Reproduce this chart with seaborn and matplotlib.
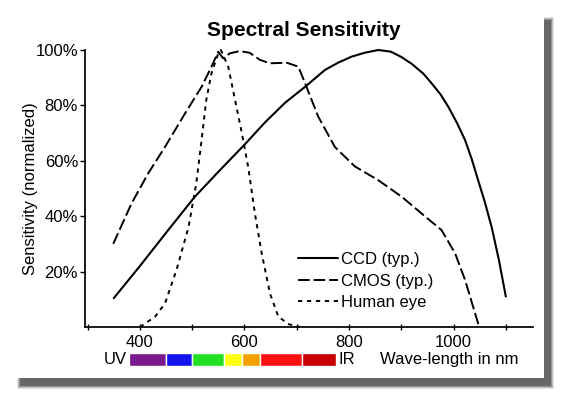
import numpy as np
import pandas as pd
import matplotlib
matplotlib.use('Agg')
import matplotlib.pyplot as plt
from matplotlib.patches import Rectangle
import seaborn as sns

# data (wavelength in nm, sensitivity in %)
ccd_wl = [350, 400, 450, 505, 550, 601, 640, 678, 716, 754, 780, 805, 830,
          856, 880, 900, 920, 942, 958, 975, 990, 1007, 1022, 1035, 1047,
          1060, 1073, 1087, 1100]
ccd_val = [10.4, 22, 34, 47, 56, 66, 74, 81, 86.7, 92.8, 95.5, 97.6, 99,
           100, 99.4, 97.5, 95, 91.5, 88, 84, 79.5, 73.5, 67.5, 60.5, 53,
           45, 36, 24, 11]

cmos_wl = [349, 384, 416, 448, 486, 518, 537, 550, 559, 572, 591, 610, 630,
           649, 681, 703, 716, 741, 773, 811, 856, 901, 945, 977, 1003, 1022,
           1047, 1050]
cmos_val = [30, 44.6, 55.5, 65, 77, 86.7, 94, 99.4, 97, 98.8, 99.6, 99, 96.4,
            95.2, 95.4, 94, 88, 76, 65, 58, 53, 47, 40, 35, 26.6, 17, 1.3, 0]

eye_wl = [400, 429, 448, 470, 493, 508, 518, 527, 537, 550, 555, 569, 582,
          595, 607, 620, 633, 649, 665, 685, 706]
eye_val = [0, 3.7, 8.5, 20.6, 36, 52, 67.5, 82, 91.6, 98.8, 100, 94, 82,
           70, 58, 41, 26.6, 12, 3.7, 1, 0]

series_names = ['CCD (typ.)', 'CMOS (typ.)', 'Human eye']

x_ticks = [300, 400, 500, 600, 700, 800, 900, 1000, 1100]
x_ticklabels = ['', '400', '', '600', '', '800', '', '1000', '']
y_ticks = [20, 40, 60, 80, 100]
y_ticklabels = ['20%', '40%', '60%', '80%', '100%']

# spectrum strip under the axis
band_edges = [380, 450, 500, 560, 595, 630, 710, 775]
band_colors = ['#7b1a8c', '#1414ee', '#22e022', '#ffff10', '#f5a000',
               '#ff1010', '#c80000']

sns.set_theme(style='ticks', rc={
    'axes.edgecolor': 'black', 'text.color': 'black', 'axes.labelcolor': 'black',
    'xtick.color': 'black', 'ytick.color': 'black'})
plt.rcParams['font.family'] = ['Liberation Sans', 'DejaVu Sans']

fig = plt.figure(figsize=(5.68, 3.95), dpi=100)
fig.patch.set_facecolor('white')

# card shadow (a few soft layers) + white card
W, H = 568.0, 395.0
for grow, alpha in [(3, 0.15), (2, 0.25), (1, 0.35), (0, 0.6)]:
    x0, y0, x1, y1 = 20 - grow, 20 - grow, 551 + grow, 386 + grow
    fig.add_artist(Rectangle((x0 / W, 1 - y1 / H), (x1 - x0) / W, (y1 - y0) / H,
                             transform=fig.transFigure, facecolor='#4a4a4a',
                             edgecolor='none', alpha=alpha, zorder=-10))
fig.add_artist(Rectangle((0, 1 - 378 / H), 544 / W, 378 / H,
                         transform=fig.transFigure, facecolor='white',
                         edgecolor='none', zorder=-5))

ax = fig.add_axes([85 / W, 1 - 327 / H, 448 / W, 277 / H])
ax.patch.set_alpha(0)

df_ccd = pd.DataFrame({'wl': ccd_wl, 'val': ccd_val})
df_cmos = pd.DataFrame({'wl': cmos_wl, 'val': cmos_val})
df_eye = pd.DataFrame({'wl': eye_wl, 'val': eye_val})

sns.lineplot(data=df_ccd, x='wl', y='val', ax=ax, color='black', lw=1.5,
             estimator=None, sort=False, label=series_names[0])
sns.lineplot(data=df_cmos, x='wl', y='val', ax=ax, color='black', lw=1.4,
             estimator=None, sort=False, label=series_names[1])
sns.lineplot(data=df_eye, x='wl', y='val', ax=ax, color='black', lw=1.4,
             estimator=None, sort=False, label=series_names[2])
ax.lines[1].set_dashes((6, 2))
ax.lines[2].set_dashes((2.2, 2.4))
for ln in ax.lines:
    ln.set_clip_on(False)
    ln.set_solid_joinstyle('round')

ax.set_xlim(295, 1152)
ax.set_ylim(0, 100)
ax.set_xticks(x_ticks)
ax.set_xticklabels(x_ticklabels)
ax.set_yticks(y_ticks)
ax.set_yticklabels(y_ticklabels)
ax.tick_params(axis='x', direction='inout', length=5, width=1, pad=3, labelsize=12)
ax.tick_params(axis='y', direction='out', length=3.5, width=1, pad=1.5, labelsize=12)
sns.despine(ax=ax)
ax.set_xlabel('')
ax.set_ylabel('Sensitivity (normalized)', fontsize=12)
ax.yaxis.set_label_coords(-0.105, 0.5)

ax.legend(loc='upper left', bbox_to_anchor=(0.475, 0.270), frameon=False,
          fontsize=12, handlelength=2.4, handletextpad=0.2, labelspacing=0.39,
          borderpad=0, borderaxespad=0)

# colour strip, sharing the wavelength scale
cax = fig.add_axes([85 / W, 1 - 365.7 / H, 448 / W, 12.4 / H], sharex=ax)
spans = list(zip(band_edges[:-1], np.diff(band_edges)))
cax.broken_barh(spans, (0, 1), facecolors=band_colors)
cax.set_ylim(0, 1)
cax.axis('off')
cax.annotate('UV', xy=(band_edges[0], 0.5), xytext=(-1.5, 0), textcoords='offset points',
             ha='right', va='center', fontsize=12)
cax.annotate('IR', xy=(band_edges[-1], 0.5), xytext=(1.5, 0), textcoords='offset points',
             ha='left', va='center', fontsize=12)
fig.text(380 / W, 1 - 359.5 / H, 'Wave-length in nm', ha='left', va='center', fontsize=12)

fig.text(304 / W, 1 - 31 / H, 'Spectral Sensitivity', ha='center', va='center',
         fontsize=15, fontweight='bold')

fig.savefig('out.png', dpi=100)
